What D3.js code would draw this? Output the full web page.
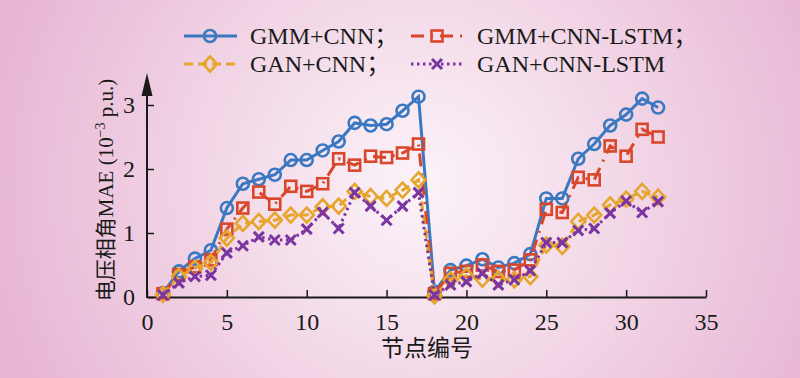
<!DOCTYPE html>
<html>
<head>
<meta charset="utf-8">
<script src="https://cdn.jsdelivr.net/npm/d3@7"></script>
<style>
  body { margin: 0; padding: 0; }
  svg { display: block; }
  text { font-family: "Liberation Serif", "Noto Sans CJK SC", serif; fill: #1a1a1a; }
</style>
</head>
<body>
<div id="chart"></div>
<script>
// node numbers 1..32
const nodes = d3.range(1, 33);

const gmmCnn = [0.06, 0.40, 0.60, 0.73, 1.39, 1.77, 1.84, 1.91, 2.14, 2.14, 2.29, 2.43, 2.72, 2.68, 2.70, 2.91, 3.13,
                0.08, 0.42, 0.49, 0.59, 0.46, 0.53, 0.67, 1.54, 1.54, 2.16, 2.39, 2.68, 2.85, 3.10, 2.96];
const gmmCnnLstm = [0.05, 0.35, 0.47, 0.58, 1.06, 1.39, 1.64, 1.45, 1.73, 1.65, 1.77, 2.16, 2.06, 2.20, 2.18, 2.25, 2.39,
                    0.05, 0.37, 0.40, 0.50, 0.40, 0.42, 0.58, 1.37, 1.32, 1.87, 1.83, 2.36, 2.20, 2.62, 2.50];
const ganCnn = [0.04, 0.32, 0.45, 0.54, 0.92, 1.15, 1.18, 1.20, 1.28, 1.28, 1.41, 1.42, 1.65, 1.57, 1.54, 1.67, 1.83,
                0.02, 0.27, 0.33, 0.28, 0.28, 0.27, 0.32, 0.81, 0.79, 1.18, 1.28, 1.44, 1.53, 1.65, 1.56];
const ganCnnLstm = [0.03, 0.22, 0.32, 0.34, 0.69, 0.80, 0.94, 0.89, 0.89, 1.06, 1.32, 1.07, 1.63, 1.42, 1.20, 1.42, 1.63,
                    0.03, 0.19, 0.24, 0.37, 0.19, 0.27, 0.41, 0.85, 0.85, 1.04, 1.07, 1.31, 1.50, 1.32, 1.49];

const xTicks = [0, 5, 10, 15, 20, 25, 30, 35];
const yTicks = [0, 1, 2, 3];

const series = [
  {name: "GMM+CNN；", values: gmmCnn, color: "#3a78c2", dash: null, marker: "circle"},
  {name: "GMM+CNN-LSTM；", values: gmmCnnLstm, color: "#d9472b", dash: "13,7,2,7", marker: "square"},
  {name: "GAN+CNN；", values: ganCnn, color: "#e6a52c", dash: "9,5", marker: "diamond"},
  {name: "GAN+CNN-LSTM", values: ganCnnLstm, color: "#7a35a0", dash: "2.5,3.5", marker: "cross"}
];

const width = 800, height = 378;

const svg = d3.select("#chart").append("svg")
  .attr("width", width)
  .attr("height", height);

// background gradient
const defs = svg.append("defs");
const grad = defs.append("radialGradient")
  .attr("id", "bg")
  .attr("gradientUnits", "userSpaceOnUse")
  .attr("cx", 420).attr("cy", 185).attr("r", 430);
grad.append("stop").attr("offset", "0%").attr("stop-color", "#fbf3f8");
grad.append("stop").attr("offset", "45%").attr("stop-color", "#f3d9e8");
grad.append("stop").attr("offset", "100%").attr("stop-color", "#e8b7d5");

svg.append("rect").attr("width", width).attr("height", height).attr("fill", "url(#bg)");

const x = d3.scaleLinear().domain([0, 35]).range([147, 706]);
const y = d3.scaleLinear().domain([0, 3]).range([297, 105]);

// x axis (ticks inward)
const xAxis = svg.append("g")
  .attr("transform", `translate(0,${y(0)})`)
  .call(d3.axisBottom(x).tickValues(xTicks).tickFormat(d3.format("d"))
    .tickSizeInner(-7).tickSizeOuter(0).tickPadding(16));
xAxis.select(".domain").attr("stroke", "#1a1a1a").attr("stroke-width", 2);
xAxis.selectAll(".tick line").attr("stroke", "#1a1a1a").attr("stroke-width", 1.5);
xAxis.selectAll(".tick text").style("font-size", "24px").attr("fill", "#1a1a1a")
  .style("font-family", "'Liberation Serif', serif");

// y axis (ticks inward) with arrow
const yAxis = svg.append("g")
  .attr("transform", `translate(${x(0)},0)`)
  .call(d3.axisLeft(y).tickValues(yTicks).tickFormat(d3.format("d"))
    .tickSizeInner(-7).tickSizeOuter(0).tickPadding(12));
yAxis.select(".domain").remove();
yAxis.selectAll(".tick line").attr("stroke", "#1a1a1a").attr("stroke-width", 1.5);
yAxis.selectAll(".tick text").style("font-size", "24px").attr("fill", "#1a1a1a")
  .style("font-family", "'Liberation Serif', serif");

svg.append("line")
  .attr("x1", x(0)).attr("x2", x(0))
  .attr("y1", y(0) + 1).attr("y2", 90)
  .attr("stroke", "#1a1a1a").attr("stroke-width", 2);
svg.append("path")
  .attr("d", `M${x(0)},73 L${x(0) - 5.5},96 L${x(0) + 5.5},96 Z`)
  .attr("fill", "#1a1a1a");

// axis titles
svg.append("text")
  .attr("x", 427).attr("y", 356)
  .attr("text-anchor", "middle")
  .style("font-size", "23px")
  .text("节点编号");

const yLabel = svg.append("text")
  .attr("transform", `translate(113,190) rotate(-90)`)
  .attr("text-anchor", "middle")
  .style("font-size", "21px");
yLabel.append("tspan").text("电压相角MAE (10");
yLabel.append("tspan").attr("dy", -8).style("font-size", "14px").text("−3");
yLabel.append("tspan").attr("dy", 8).text(" p.u.)");

// markers
function drawMarker(g, type, color) {
  if (type === "circle") {
    g.append("circle").attr("r", 6).attr("fill", "none")
      .attr("stroke", color).attr("stroke-width", 2.6);
  } else if (type === "square") {
    g.append("rect").attr("x", -5.5).attr("y", -5.5).attr("width", 11).attr("height", 11)
      .attr("fill", "none").attr("stroke", color).attr("stroke-width", 2.6);
  } else if (type === "diamond") {
    g.append("path").attr("d", "M0,-7.5 L7,0 L0,7.5 L-7,0 Z")
      .attr("fill", "none").attr("stroke", color).attr("stroke-width", 2.6);
  } else {
    g.append("path").attr("d", "M-5,-5 L5,5 M-5,5 L5,-5")
      .attr("fill", "none").attr("stroke", color).attr("stroke-width", 3);
  }
}

const line = d3.line()
  .x((d, i) => x(nodes[i]))
  .y(d => y(d));

series.forEach(s => {
  const g = svg.append("g");
  g.append("path")
    .datum(s.values)
    .attr("d", line)
    .attr("fill", "none")
    .attr("stroke", s.color)
    .attr("stroke-width", 3)
    .attr("stroke-dasharray", s.dash);
  g.selectAll(".m")
    .data(s.values)
    .join("g")
    .attr("transform", (d, i) => `translate(${x(nodes[i])},${y(d)})`)
    .each(function() { drawMarker(d3.select(this), s.marker, s.color); });
});

// legend
const legendPos = [
  {lx: 184, ty: 36},
  {lx: 411, ty: 36},
  {lx: 184, ty: 64},
  {lx: 411, ty: 64}
];
series.forEach((s, i) => {
  const p = legendPos[i];
  const g = svg.append("g").attr("transform", `translate(${p.lx},${p.ty})`);
  g.append("line")
    .attr("x1", 0).attr("x2", 53)
    .attr("stroke", s.color).attr("stroke-width", 3)
    .attr("stroke-dasharray", s.dash);
  const m = g.append("g").attr("transform", "translate(26,0)");
  drawMarker(m, s.marker, s.color);
  g.append("text")
    .attr("x", 66).attr("y", 8)
    .style("font-size", "24px")
    .text(s.name);
});
</script>
</body>
</html>
